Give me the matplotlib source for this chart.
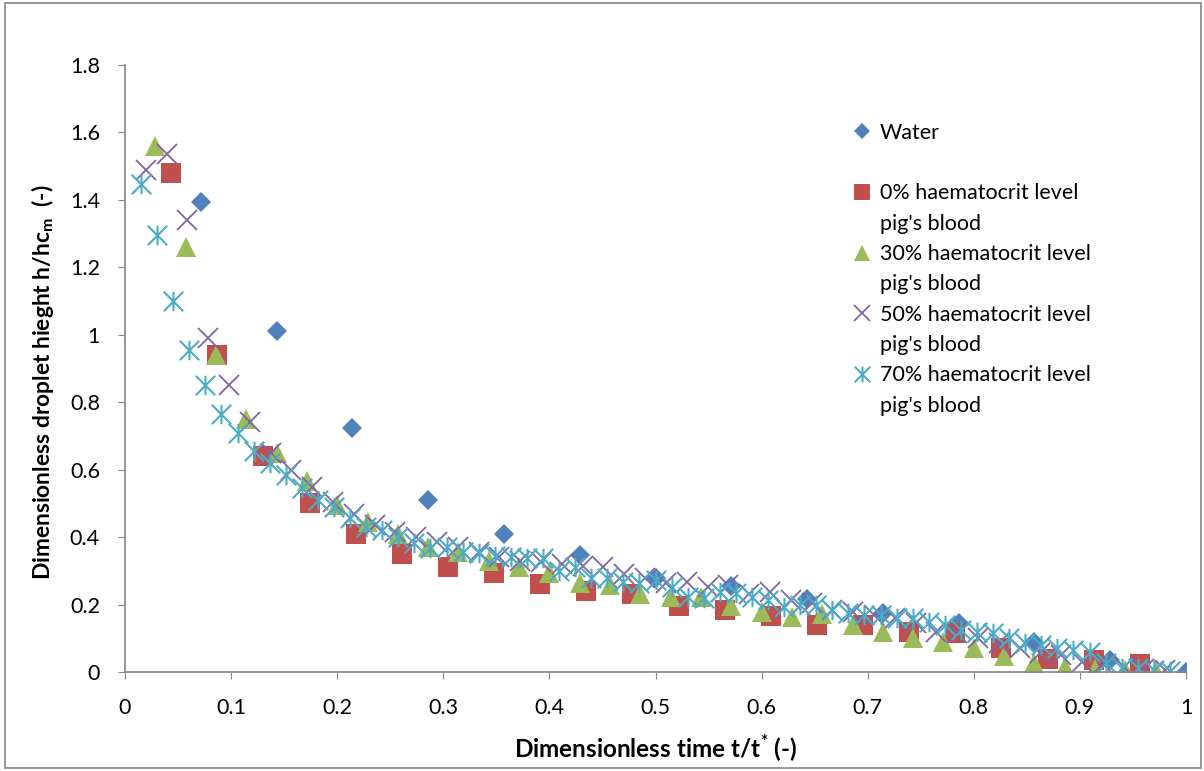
import numpy as np
import matplotlib
matplotlib.use("Agg")
import matplotlib.pyplot as plt
from matplotlib.lines import Line2D
from matplotlib.path import Path
from matplotlib.patches import Rectangle
from matplotlib.ticker import MultipleLocator, FuncFormatter

plt.rcParams['font.family'] = ['Lato', 'DejaVu Sans']
plt.rcParams['mathtext.fontset'] = 'custom'
plt.rcParams['mathtext.rm'] = 'Lato'
plt.rcParams['mathtext.bf'] = 'Lato:bold'

# ------------------------------
# data
# ------------------------------
water_h = [1.394, 1.011, 0.724, 0.51, 0.41, 0.347, 0.28, 0.255, 0.215, 0.175,
           0.145, 0.09, 0.036, 0.0]
hct0_h = [1.48, 0.94, 0.64, 0.50, 0.41, 0.35, 0.31, 0.295, 0.26, 0.24, 0.23,
          0.195, 0.185, 0.165, 0.14, 0.14, 0.12, 0.115, 0.07, 0.038, 0.035, 0.023]
hct30_h = [1.56, 1.26, 0.94, 0.75, 0.65, 0.565, 0.495, 0.445, 0.41, 0.37,
           0.355, 0.33, 0.31, 0.295, 0.265, 0.258, 0.23, 0.222, 0.222, 0.195,
           0.178, 0.163, 0.172, 0.139, 0.118, 0.101, 0.088, 0.072, 0.047, 0.028,
           0.016, 0.008, 0.006, 0.002]
hct50_h = [1.49, 1.535, 1.34, 0.99, 0.85, 0.74, 0.65, 0.60, 0.55, 0.505,
           0.47, 0.435, 0.415, 0.40, 0.385, 0.37, 0.355, 0.34, 0.33, 0.325,
           0.32, 0.315, 0.31, 0.29, 0.28, 0.265, 0.267, 0.252, 0.258, 0.23,
           0.237, 0.213, 0.205, 0.185, 0.178, 0.17, 0.16, 0.145, 0.12, 0.115,
           0.10, 0.085, 0.07, 0.055, 0.05, 0.03, 0.025, 0.015, 0.01, 0.005]
hct70_h = [1.447, 1.296, 1.10, 0.955, 0.85, 0.765, 0.71, 0.655, 0.62, 0.584,
           0.546, 0.51, 0.49, 0.457, 0.43, 0.42, 0.40, 0.383, 0.368, 0.37,
           0.356, 0.353, 0.345, 0.34, 0.338, 0.338, 0.30, 0.31, 0.28, 0.28,
           0.267, 0.264, 0.273, 0.252, 0.222, 0.22, 0.237, 0.234, 0.222, 0.213,
           0.193, 0.2, 0.2, 0.185, 0.175, 0.169, 0.169, 0.16, 0.16, 0.148,
           0.139, 0.125, 0.119, 0.116, 0.10, 0.086, 0.08, 0.071, 0.065, 0.059,
           0.027, 0.012, 0.012, 0.006, 0.002]

# samples are equally spaced in t/t*, n_steps intervals per run
water_steps, hct0_steps, hct30_steps, hct50_steps, hct70_steps = 14, 23, 35, 51, 66

labels = ["Water", "0% haematocrit level\npig's blood",
          "30% haematocrit level\npig's blood",
          "50% haematocrit level\npig's blood",
          "70% haematocrit level\npig's blood"]
colors = ['#4F81BD', '#C0504D', '#9BBB59', '#8064A2', '#4BACC6']


def times(h, steps):
    return np.arange(1, len(h) + 1) / steps


# asterisk marker: X plus vertical bar (Excel style)
star_path = Path([(-0.5, -0.5), (0.5, 0.5), (-0.5, 0.5), (0.5, -0.5), (0, -0.5), (0, 0.5)],
                 [Path.MOVETO, Path.LINETO, Path.MOVETO, Path.LINETO, Path.MOVETO, Path.LINETO])

# ------------------------------
# figure
# ------------------------------
fig = plt.figure(figsize=(12.04, 7.71), dpi=100)
ax = fig.add_axes([125 / 1204, 1 - 672 / 771, (1186 - 125) / 1204, (672 - 65) / 771])

l0, = ax.plot(times(water_h, water_steps), water_h, 'D', ms=10, color=colors[0], mew=0)
l1, = ax.plot(times(hct0_h, hct0_steps), hct0_h, 's', ms=14, color=colors[1], mew=0)
l2, = ax.plot(times(hct30_h, hct30_steps), hct30_h, '^', ms=15, color=colors[2], mew=0)
l3, = ax.plot(times(hct50_h, hct50_steps), hct50_h, 'x', ms=14, color=colors[3], mew=1.3)
l4, = ax.plot(times(hct70_h, hct70_steps), hct70_h, linestyle='none', marker=star_path,
              ms=14, color=colors[4], mew=1.5, fillstyle='none')

ax.set_xlim(0, 1)
ax.set_ylim(0, 1.8)
ax.xaxis.set_major_locator(MultipleLocator(0.1))
ax.yaxis.set_major_locator(MultipleLocator(0.2))
fmt = FuncFormatter(lambda v, p: '%g' % round(v, 2))
ax.xaxis.set_major_formatter(fmt)
ax.yaxis.set_major_formatter(fmt)

for s in ['top', 'right']:
    ax.spines[s].set_visible(False)
for s in ['left', 'bottom']:
    ax.spines[s].set_color('#868686')
    ax.spines[s].set_linewidth(1.2)
ax.tick_params(axis='both', length=5, color='#868686', labelsize=15.5, labelcolor='black')
ax.tick_params(axis='y', pad=13)
ax.tick_params(axis='x', pad=14)

ax.set_xlabel(r"Dimensionless time t/t$^\mathbf{*}$ (-)", fontsize=17.5, fontweight='bold')
ax.xaxis.set_label_coords(0.5, -(748 - 672) / 607)
ax.xaxis.label.set_va('center')
ax.set_ylabel(r"Dimensionless droplet hieght h/hc$_\mathbf{m}$  (-)", fontsize=16.4,
              fontweight='bold')
ax.yaxis.set_label_coords(-(125 - 43) / 1061, (672 - 382) / 607)
ax.yaxis.label.set_va('center')

# legend: marker next to the first line of each entry
blank = Line2D([], [], linestyle='none')
handles = [l0, blank]
leg_labels = ["Water", " "]
for h, lab in zip([l1, l2, l3, l4], labels[1:]):
    first, second = lab.split("\n")
    handles += [h, blank]
    leg_labels += [first, second]
leg = ax.legend(handles, leg_labels, loc='upper left', bbox_to_anchor=(843 / 1204, 1 - 112 / 771),
                bbox_transform=fig.transFigure, frameon=False, fontsize=15.5,
                handlelength=0.8, handletextpad=0.4, labelspacing=0.48, borderpad=0,
                markerscale=0.8)

# outer chart border
fig.patches.append(Rectangle((5 / 1204, 3 / 771), 1196 / 1204, 765 / 771, transform=fig.transFigure,
                             fill=False, edgecolor='#868686', lw=1.2))

fig.savefig("out.png", dpi=100)
